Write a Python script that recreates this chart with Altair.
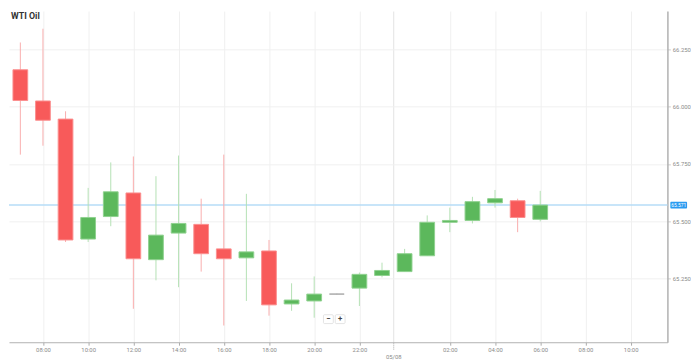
import altair as alt
import pandas as pd

# hourly candles: hour index (7 = 07:00 day 1, 24 = 00:00 day 2, 30 = 06:00 day 2)
hours = list(range(7, 31))
open_ = [66.161, 66.025, 65.946, 65.423, 65.521, 65.624, 65.333, 65.449, 65.487, 65.380,
         65.341, 65.371, 65.140, 65.153, 65.183, 65.209, 65.264, 65.281, 65.350, 65.496,
         65.504, 65.581, 65.590, 65.509]
close = [66.027, 65.941, 65.419, 65.517, 65.629, 65.337, 65.440, 65.491, 65.359, 65.337,
         65.367, 65.136, 65.157, 65.183, 65.183, 65.269, 65.286, 65.359, 65.496, 65.504,
         65.586, 65.599, 65.517, 65.571]
high = [66.280, 66.340, 65.980, 65.646, 65.757, 65.783, 65.697, 65.787, 65.599, 65.791,
        65.620, 65.419, 65.230, 65.260, 65.185, 65.277, 65.320, 65.380, 65.526, 65.560,
        65.607, 65.637, 65.599, 65.633]
low = [65.791, 65.830, 65.410, 65.410, 65.479, 65.119, 65.243, 65.213, 65.281, 65.046,
       65.153, 65.089, 65.110, 65.080, 65.181, 65.131, 65.256, 65.281, 65.350, 65.453,
       65.491, 65.560, 65.453, 65.500]

current_price = [65.571]
title_text = ["WTI Oil"]
x_tick_values = [8, 10, 12, 14, 16, 18, 20, 22, 23.5, 26, 28, 30, 32, 34]
y_tick_values = [65.25, 65.5, 65.75, 66.0, 66.25]
date_label = "05/08"
zoom_buttons = ["−", "+"]

x_domain = [6.715, 35.409]
y_domain = [64.973, 66.417]

def direction(o, c):
    if c > o:
        return "up"
    if c < o:
        return "down"
    return "flat"

df = pd.DataFrame({
    "hour": hours, "open": open_, "close": close, "high": high, "low": low,
})
df["dir"] = [direction(o, c) for o, c in zip(open_, close)]

FONT = "Roboto"

x_enc = alt.X(
    "hour:Q",
    scale=alt.Scale(domain=x_domain, nice=False, zero=False),
    axis=alt.Axis(
        title=None,
        values=x_tick_values,
        labelExpr=(
            f"datum.value == 23.5 ? '{date_label}' : "
            "((datum.value % 24) < 10 ? '0' : '') + (datum.value % 24) + ':00'"
        ),
        labelFont=FONT,
        labelFontSize=6,
        labelColor="#8a8a8a",
        labelPadding={"condition": {"test": "datum.value == 23.5", "value": 3.5}, "value": 1},
        tickSize={"condition": {"test": "datum.value == 23.5", "value": 8}, "value": 3},
        tickDash={"condition": {"test": "datum.value == 23.5", "value": [1, 1]}, "value": []},
        tickColor="#aaaaaa",
        domainColor="#b0b0b0",
        grid=True,
        gridColor={"condition": {"test": "datum.value == 23.5", "value": "#e2e2e2"}, "value": "#f0f0f0"},
        labelFlush=False,
    ),
)

y_scale = alt.Scale(domain=y_domain, nice=False, zero=False)

color_scale = alt.Scale(domain=["up", "down", "flat"],
                        range=["#5cb85c", "#f85a5a", "#a8a8a8"])
wick_scale = alt.Scale(domain=["up", "down", "flat"],
                       range=["#b4e0b4", "#f9acac", "#cccccc"])
stroke_scale = alt.Scale(domain=["up", "down", "flat"],
                         range=["#8fd18f", "#fb8f8f", "#a8a8a8"])

base = alt.Chart(df)

wicks = base.mark_rule(strokeWidth=1).encode(
    x=x_enc,
    y=alt.Y("low:Q", scale=y_scale, axis=alt.Axis(
        title=None,
        orient="right",
        values=y_tick_values,
        format=".3f",
        labelFont=FONT,
        labelFontSize=6,
        labelColor="#8a8a8a",
        labelPadding=2,
        tickSize=3,
        tickColor="#cccccc",
        domainColor="#b0b0b0",
        domainWidth=1.5,
        grid=True,
        gridColor="#f0f0f0",
    )),
    y2="high:Q",
    color=alt.Color("dir:N", scale=wick_scale, legend=None),
)

bodies = base.mark_bar(size=15, strokeWidth=1).encode(
    x="hour:Q",
    y=alt.Y("open:Q", scale=y_scale),
    y2="close:Q",
    fill=alt.Fill("dir:N", scale=color_scale, legend=None),
    stroke=alt.Stroke("dir:N", scale=stroke_scale, legend=None),
)

price_df = pd.DataFrame({"price": current_price,
                         "label": [f"{p:.3f}" for p in current_price]})

price_line = alt.Chart(price_df).mark_rule(color="#b6dcf7", strokeWidth=1.5).encode(
    y=alt.Y("price:Q", scale=y_scale),
)

price_box = alt.Chart(price_df).mark_rect(height=7, color="#2b9bf0", cornerRadius=1).encode(
    x=alt.value(673), x2=alt.value(690),
    y=alt.Y("price:Q", scale=y_scale),
)

price_text = alt.Chart(price_df).mark_text(
    color="white", fontSize=5, font=FONT, align="center", baseline="middle"
).encode(
    x=alt.value(681.5),
    y=alt.Y("price:Q", scale=y_scale),
    text="label:N",
)

title_df = pd.DataFrame({"t": title_text})
title = alt.Chart(title_df).mark_text(
    align="left", baseline="middle", fontSize=9, fontWeight="bold",
    font=FONT, color="#333333"
).encode(
    x=alt.value(2), y=alt.value(5), text="t:N",
)

# small zoom (−/+) buttons under the plot
btn_minus_df = pd.DataFrame({"t": [zoom_buttons[0]]})
btn_plus_df = pd.DataFrame({"t": [zoom_buttons[1]]})

btn_minus_box = alt.Chart(btn_minus_df).mark_rect(
    fill="white", stroke="#dddddd", strokeWidth=0.8, cornerRadius=1
).encode(x=alt.value(320), x2=alt.value(330), y=alt.value(309), y2=alt.value(318))
btn_plus_box = alt.Chart(btn_plus_df).mark_rect(
    fill="white", stroke="#dddddd", strokeWidth=0.8, cornerRadius=1
).encode(x=alt.value(332), x2=alt.value(342), y=alt.value(309), y2=alt.value(318))
btn_minus_text = alt.Chart(btn_minus_df).mark_text(
    fontSize=8, font=FONT, fontWeight="bold", color="#444444", align="center", baseline="middle"
).encode(x=alt.value(325), y=alt.value(313.5), text="t:N")
btn_plus_text = alt.Chart(btn_plus_df).mark_text(
    fontSize=8, font=FONT, fontWeight="bold", color="#444444", align="center", baseline="middle"
).encode(x=alt.value(337), y=alt.value(313.5), text="t:N")

chart = alt.layer(
    price_line, wicks, bodies, price_box, price_text, title,
    btn_minus_box, btn_plus_box, btn_minus_text, btn_plus_text,
).properties(
    width=670, height=337,
    padding={"left": 0, "top": 0, "right": 0, "bottom": 0},
    background="white",
).configure_view(stroke=None)

chart.save("out.html", embed_options={"renderer": "svg", "actions": False})
